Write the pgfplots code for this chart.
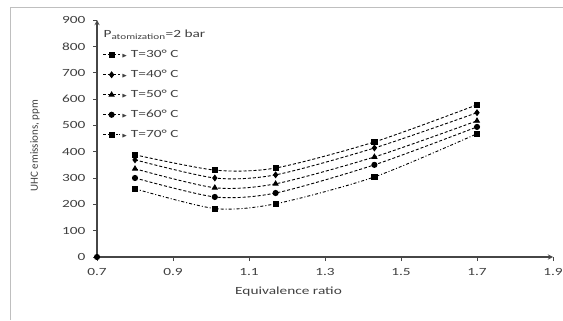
\documentclass[border=0pt]{standalone}
\usepackage{fontspec}
\setmainfont{Carlito}[FakeStretch=1.4]
\newfontfamily\plainfont{Carlito}
\usepackage{amssymb}
\usepackage{pgfplots}
\pgfplotsset{compat=1.18}
\definecolor{axgray}{RGB}{70,70,70}
\begin{document}
\begin{tikzpicture}[x=1bp,y=1bp]
\useasboundingbox (0,0) rectangle (563,320);
\draw[gray!50, line width=0.6bp] (10,0) -- (10,313) -- (563,313);
\begin{axis}[
  at={(97bp,63bp)}, anchor=south west,
  scale only axis, width=456bp, height=237bp,
  xmin=0.7, xmax=1.9, ymin=0, ymax=900,
  xtick={0.7,0.9,1.1,1.3,1.5,1.7,1.9},
  xticklabels={0.7,0.9,1.1,1.3,1.5,1.7,1.9},
  ytick={0,100,...,900},
  axis x line=bottom, axis y line=left,
  axis line style={axgray, line width=1.3bp, -stealth},
  tick style={axgray, line width=0.6bp},
  major tick length=4bp,
  tick align=outside,
  /pgf/number format/assume math mode=true,
  ticklabel style={font=\fontsize{11}{12}\selectfont, text=black!75},
  xticklabel style={yshift=-4bp},
  yticklabel style={xshift=-4bp},
  xlabel={Equivalence ratio},
  ylabel={UHC emissions, ppm},
  xlabel style={font=\fontsize{11}{12}\selectfont, text=black!75, at={(axis description cs:0.42,0)}, anchor=north, yshift=-26bp},
  ylabel style={font=\plainfont\fontsize{11}{12}\selectfont, text=black!75, at={(axis description cs:-0.136,0.47)}, anchor=center},
  clip=false,
  legend style={draw=none, fill=none, at={(axis description cs:0.012,0.962)}, anchor=north west,
    font=\fontsize{11}{12}\selectfont, text=black!75, row sep=9bp, inner sep=0pt,
    nodes={inner sep=1bp}},
  legend cell align=left,
  every axis plot/.append style={black, line width=0.9bp, smooth, tension=0.45},
]
\addlegendimage{empty legend}
\addlegendentry{\hspace*{-18bp}P\textsubscript{\fontsize{8}{9}\selectfont atomization}=2 bar\rule[-13bp]{0pt}{1bp}}

\addplot[dash pattern=on 3bp off 2bp, mark=square*, mark size=2.6bp, mark options={solid}]
coordinates {(0.8,388) (1.01,330) (1.17,338) (1.43,437) (1.70,578)};
\addlegendentry{$\scriptscriptstyle\blacktriangleright$ T=30° C}

\addplot[dash pattern=on 3bp off 2bp, mark=diamond*, mark size=2.8bp, mark options={solid}]
coordinates {(0.8,369) (1.01,300) (1.17,312) (1.43,414) (1.70,548)};
\addlegendentry{$\scriptscriptstyle\blacktriangleright$ T=40° C}

\addplot[dash pattern=on 3bp off 2bp, mark=triangle*, mark size=2.8bp, mark options={solid}]
coordinates {(0.8,335) (1.01,263) (1.17,278) (1.43,380) (1.70,517)};
\addlegendentry{$\scriptscriptstyle\blacktriangleright$ T=50° C}

\addplot[dash pattern=on 3bp off 2bp, mark=*, mark size=2.6bp, mark options={solid}]
coordinates {(0.8,300) (1.01,228) (1.17,243) (1.43,350) (1.70,494)};
\addlegendentry{$\scriptscriptstyle\blacktriangleright$ T=60° C}

\addplot[dash pattern=on 3bp off 2bp on 1bp off 2bp, mark=square*, mark size=2.6bp, mark options={solid}]
coordinates {(0.8,259) (1.01,184) (1.17,202) (1.43,304) (1.70,468)};
\addlegendentry{$\scriptscriptstyle\blacktriangleright$ T=70° C}

\addplot[forget plot, only marks, mark=*, mark size=2.6bp] coordinates {(0.7,0)};
\end{axis}
\end{tikzpicture}
\end{document}
